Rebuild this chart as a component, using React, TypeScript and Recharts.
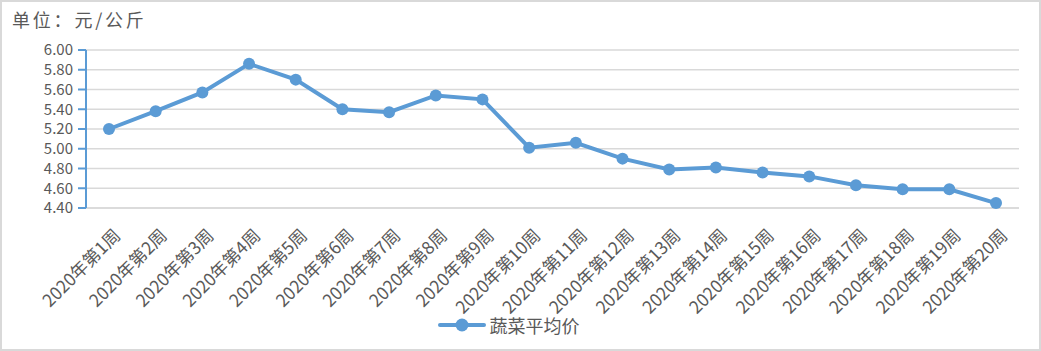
import React from "react";
import { LineChart, Line, XAxis, YAxis, CartesianGrid, Legend } from "recharts";

const weeks = [
  "2020年第1周", "2020年第2周", "2020年第3周", "2020年第4周", "2020年第5周",
  "2020年第6周", "2020年第7周", "2020年第8周", "2020年第9周", "2020年第10周",
  "2020年第11周", "2020年第12周", "2020年第13周", "2020年第14周", "2020年第15周",
  "2020年第16周", "2020年第17周", "2020年第18周", "2020年第19周", "2020年第20周",
];
const prices = [
  5.2, 5.38, 5.57, 5.86, 5.7, 5.4, 5.37, 5.54, 5.5, 5.01,
  5.06, 4.9, 4.79, 4.81, 4.76, 4.72, 4.63, 4.59, 4.59, 4.45,
];
const yTicks = [4.4, 4.6, 4.8, 5.0, 5.2, 5.4, 5.6, 5.8, 6.0];
const seriesName = "蔬菜平均价";
const unitLabel = "单位：元/公斤";

const data = weeks.map((w, i) => ({ week: w, price: prices[i] }));

const FONT = "'Noto Sans CJK SC', 'Open Sans', sans-serif";
const BLUE = "#5B9BD5";
const TEXT = "#595959";

const XTick = (props: any) => {
  const { x, y, payload } = props;
  return (
    <g transform={`translate(${x + 9},${y + 17})`}>
      <text
        x={0}
        y={0}
        dy={5}
        textAnchor="end"
        transform="rotate(-45)"
        fontSize={17.5}
        fill={TEXT}
        fontFamily={FONT}
      >
        {payload.value}
      </text>
    </g>
  );
};

const LegendContent = () => (
  <div
    style={{
      display: "flex",
      justifyContent: "center",
      alignItems: "center",
      fontFamily: FONT,
      fontSize: 18,
      color: TEXT,
      paddingTop: 4,
      paddingRight: 2,
    }}
  >
    <svg width={48} height={16} style={{ marginRight: 4 }}>
      <line x1={2} y1={8} x2={46} y2={8} stroke={BLUE} strokeWidth={4} strokeLinecap="round" />
      <circle cx={24} cy={8} r={6.5} fill={BLUE} />
    </svg>
    <span>{seriesName}</span>
  </div>
);

export default function App() {
  return (
    <div
      style={{
        position: "absolute",
        left: 0,
        top: 0,
        width: 1041,
        height: 351,
        boxSizing: "border-box",
        border: "2px solid #D9D9D9",
        background: "#fff",
      }}
    >
      <div
        style={{
          position: "absolute",
          left: 10,
          top: 4,
          fontFamily: FONT,
          fontSize: 18,
          letterSpacing: 2.8,
          color: TEXT,
        }}
      >
        {unitLabel}
      </div>
      <div style={{ position: "absolute", left: -2, top: -2 }}>
        <LineChart
          width={1041}
          height={351}
          data={data}
          margin={{ top: 50, right: 22, left: 0, bottom: 13 }}
        >
          <CartesianGrid vertical={false} stroke="#D9D9D9" strokeWidth={1.5} />
          <XAxis
            dataKey="week"
            interval={0}
            tick={<XTick />}
            tickLine={false}
            axisLine={{ stroke: "#D9D9D9", strokeWidth: 1.5 }}
            height={100}
            padding={{ left: 23, right: 23 }}
          />
          <YAxis
            domain={[4.4, 6.0]}
            ticks={yTicks}
            interval={0}
            width={86}
            tickFormatter={(v: number) => v.toFixed(2)}
            axisLine={{ stroke: BLUE, strokeWidth: 2 }}
            tickLine={{ stroke: BLUE, strokeWidth: 2 }}
            tickSize={8}
            tickMargin={5}
            tick={{ fontSize: 15, fill: TEXT, fontFamily: FONT }}
          />
          <Legend verticalAlign="bottom" height={30} content={<LegendContent />} />
          <Line
            type="linear"
            dataKey="price"
            name={seriesName}
            stroke={BLUE}
            strokeWidth={4}
            dot={{ r: 6, fill: BLUE, stroke: BLUE, strokeWidth: 0 }}
            activeDot={false}
            isAnimationActive={false}
          />
        </LineChart>
      </div>
    </div>
  );
}
